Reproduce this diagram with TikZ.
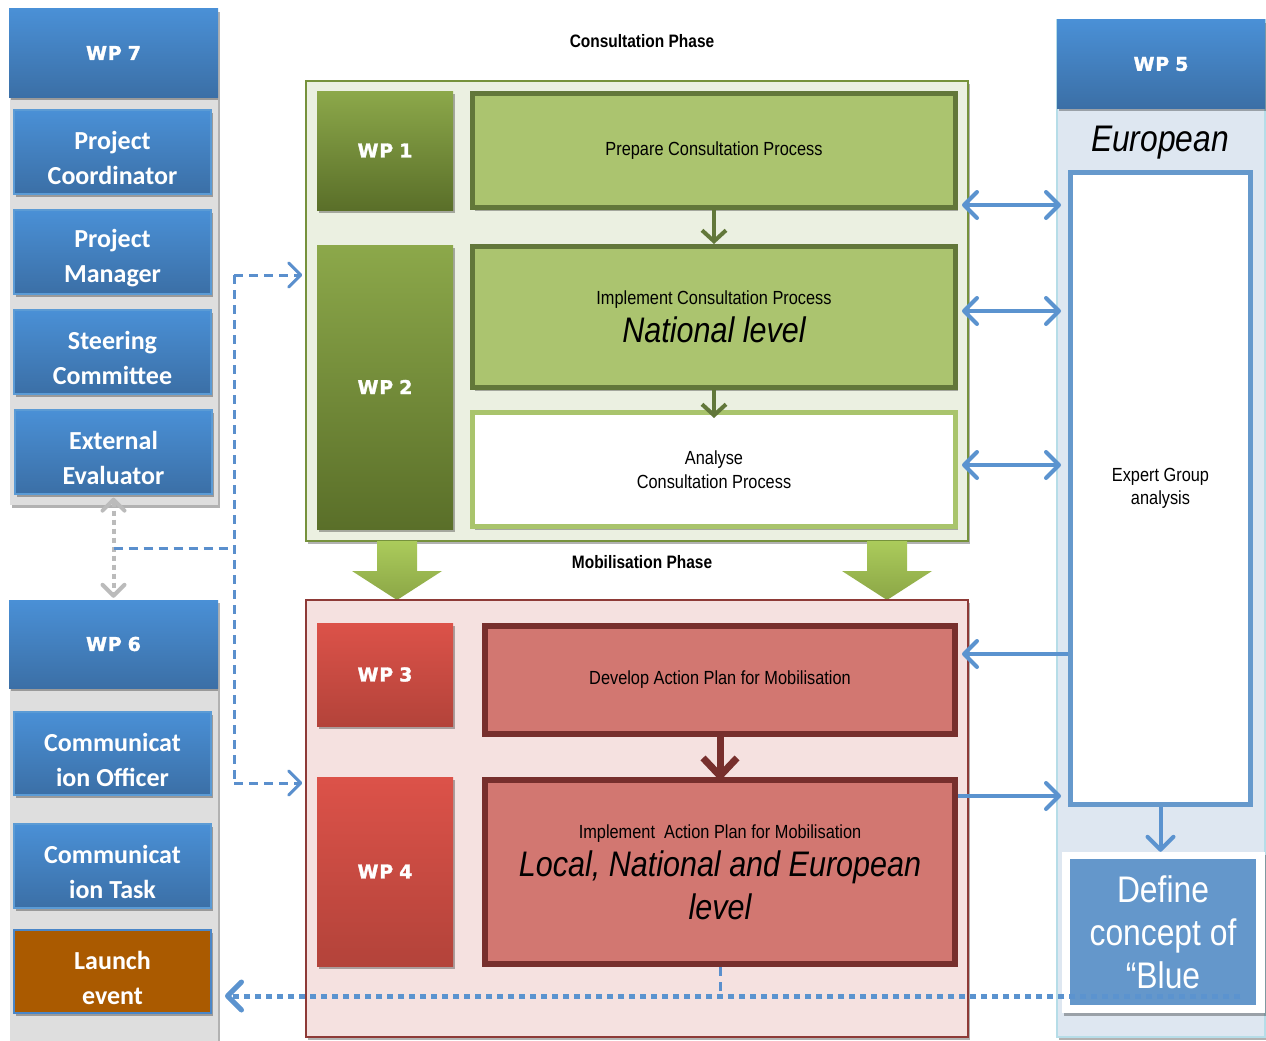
\documentclass[tikz,border=0pt]{standalone}
\usepackage{fontspec}
\setmainfont{Liberation Sans}
\newfontfamily\narrowf{Liberation Sans}[FakeStretch=0.86]
\newfontfamily\calibf{Carlito}
\newfontfamily\heavyf{DejaVu Sans}[BoldFeatures={FakeBold=1.6,LetterSpace=4}]
\usetikzlibrary{arrows.meta,shadows}
\definecolor{hdrT}{HTML}{4A90D6}
\definecolor{hdrB}{HTML}{3B6FA6}
\definecolor{lboxL}{HTML}{5B9BD5}
\definecolor{panelG}{HTML}{DEDEDE}
\definecolor{launchO}{HTML}{AA5A00}
\definecolor{launchB}{HTML}{4A86C8}
\definecolor{gOutF}{HTML}{EBF0E1}
\definecolor{gOutB}{HTML}{76923C}
\definecolor{gwpT}{HTML}{8CA84A}
\definecolor{gwpB}{HTML}{5A6F29}
\definecolor{gboxF}{HTML}{ABC46F}
\definecolor{gboxB}{HTML}{62773A}
\definecolor{ganaB}{HTML}{A9C46C}
\definecolor{rOutF}{HTML}{F5E1E0}
\definecolor{rOutB}{HTML}{8E3A37}
\definecolor{rwpT}{HTML}{DC5249}
\definecolor{rwpB}{HTML}{B3433A}
\definecolor{rboxF}{HTML}{D27771}
\definecolor{rboxB}{HTML}{772F2D}
\definecolor{rpF}{HTML}{DEE7F1}
\definecolor{rpB}{HTML}{B6DDE8}
\definecolor{expB}{HTML}{6699CC}
\definecolor{defF}{HTML}{6497CB}
\definecolor{arrB}{HTML}{5B93CF}
\definecolor{dashB}{HTML}{5A8FCD}
\definecolor{blkT}{HTML}{ABCB5B}
\definecolor{blkB}{HTML}{8BA646}
\definecolor{grayA}{HTML}{BBBBBB}
\newcommand{\bigit}{\narrowf\itshape\fontsize{35.5}{42}\selectfont}
\begin{document}
\begin{tikzpicture}[x=1pt,y=-1pt,
  shad/.style={drop shadow={shadow xshift=2pt,shadow yshift=-3pt,opacity=0.3,fill=black}},
  panel/.style={fill=panelG,draw=none,inner sep=0,shad},
  rpanel/.style={fill=rpF,draw=rpB,line width=1.2,inner sep=0,shad},
  hdr/.style={draw=none,top color=hdrT,bottom color=hdrB,text=white,inner sep=0,
     font=\heavyf\bfseries\fontsize{19}{24}\selectfont,shad},
  lbase/.style={draw=lboxL,line width=1.2,text=white,inner sep=0,align=center,text height=66pt,
     minimum width=197,font=\calibf\bfseries\fontsize{26}{35}\selectfont,shad},
  lbox/.style={lbase,top color=hdrT,bottom color=hdrB},
  gouter/.style={fill=gOutF,draw=gOutB,line width=1.5,inner sep=0,shad},
  router/.style={fill=rOutF,draw=rOutB,line width=1.5,inner sep=0,shad},
  gwp/.style={draw=none,top color=gwpT,bottom color=gwpB,text=white,inner sep=0,minimum width=136,
     font=\heavyf\bfseries\fontsize{19}{24}\selectfont,shad},
  rwp/.style={gwp,top color=rwpT,bottom color=rwpB},
  gbox/.style={fill=gboxF,draw=gboxB,line width=5,inner sep=0,align=center,
     font=\narrowf\fontsize{19}{24}\selectfont,shad},
  abox/.style={gbox,fill=white,draw=ganaB},
  rbox/.style={gbox,fill=rboxF,draw=rboxB,line width=6},
  big/.style={font=\narrowf\itshape\fontsize{37}{43}\selectfont},
  phase/.style={font=\narrowf\bfseries\fontsize{18}{22}\selectfont},
  barrow/.style={draw=arrB,line width=4,-{Straight Barb[length=13pt,width=26pt,round]}},
  barrow2/.style={draw=arrB,line width=4,{Straight Barb[length=13pt,width=26pt,round]}-{Straight Barb[length=13pt,width=26pt,round]}},
  garrow/.style={draw=gboxB,line width=4,-{Straight Barb[length=11pt,width=24pt]}},
  rarrow/.style={draw=rboxB,line width=7,-{Straight Barb[length=18pt,width=34pt]}},
  dline/.style={draw=dashB,line width=3,dash pattern=on 9pt off 6pt},
  dtip/.style={-{Straight Barb[length=12pt,width=24pt,round]}},
  dotline/.style={draw=arrB,line width=5,dash pattern=on 6pt off 5pt},
  grayarrow/.style={draw=grayA,line width=4,dash pattern=on 5pt off 4pt,
     {Straight Barb[length=11pt,width=22pt,round]}-{Straight Barb[length=11pt,width=22pt,round]}},
  blk/.style={top color=blkT,bottom color=blkB,draw=none}
]
\useasboundingbox[fill=white] (0,0) rectangle (1266,1041);

% ---------- left column ----------
\node[panel,minimum width=208,minimum height=408] (lp1) at (114,301) {};
\node[panel,minimum width=208,minimum height=356] (lp2) at (114,866) {};
\node[hdr,minimum width=209,minimum height=88] (wp7) at (113.5,53) {WP\hspace{6pt}7};
\node[lbox,minimum height=84] (pc) at (112.5,152) {Project\\Coordinator};
\node[lbox,minimum height=84] (pm) at (112.5,252) {Project\\Manager};
\node[lbox,minimum height=84] (sc) at (112.5,352) {Steering\\Committee};
\node[lbox,minimum height=84] (ee) at (113.5,452) {External\\Evaluator};
\node[hdr,minimum width=209,minimum height=88] (wp6) at (113.5,644) {WP\hspace{6pt}6};
\node[lbox,minimum height=83] (co) at (112.5,753.5) {Communicat\\ion Officer};
\node[lbox,minimum height=84] (ct) at (112.5,866) {Communicat\\ion Task};
\node[lbase,fill=launchO,draw=launchB,line width=2,minimum height=83] (le) at (112.5,971.5) {Launch\\event};

% ---------- right column ----------
\node[rpanel,minimum width=208,minimum height=1017] (rp) at (1161,528.5) {};
\node[hdr,minimum width=208,minimum height=88] (wp5) at (1161,64) {WP\hspace{6pt}5};
\node[big,inner sep=0] (euro) at (1160,143) {European};
\node[fill=white,draw=expB,line width=5,inner sep=0,minimum width=180,minimum height=632,align=center,
      font=\narrowf\fontsize{19}{23}\selectfont] (expert) at (1160.5,488.5) {Expert Group\\analysis};
\node[fill=white,inner sep=0,minimum width=203,minimum height=161,shad] (defo) at (1163.5,932.5) {};
\node[fill=defF,inner sep=0,minimum width=186,minimum height=146,text=white,align=center,
      font=\narrowf\fontsize{37}{43}\selectfont] (define) at (1163,932) {Define\\concept of\\“Blue};

% ---------- consultation phase ----------
\node[phase] (cphase) at (642,41) {Consultation Phase};
\node[gouter,minimum width=662,minimum height=460] (gout) at (637,311) {};
\node[gwp,minimum height=119] (wp1) at (385,150.5) {WP\hspace{6pt}1};
\node[gwp,minimum height=284] (wp2) at (385,387) {WP\hspace{6pt}2};
\node[gbox,minimum width=483,minimum height=114] (prep) at (714,150.5) {Prepare Consultation Process};
\node[gbox,minimum width=483,minimum height=141] (impl) at (714,317)
   {Implement Consultation Process\\[7pt]{\bigit National level}};
\node[abox,minimum width=483,minimum height=114] (anal) at (714,469.5) {Analyse\\Consultation Process};
\draw[garrow] (prep.south) -- (impl.north);
\draw[garrow] (impl.south) -- ([yshift=-8]anal.north);

% ---------- block arrows ----------
\shade[blk] (377,541) -- (417,541) -- (417,571) -- (442,571) -- (397,600) -- (352,571) -- (377,571) -- cycle;
\shade[blk] (867,541) -- (907,541) -- (907,571) -- (932,571) -- (887,600) -- (842,571) -- (867,571) -- cycle;
\node[phase] (mphase) at (642,562) {Mobilisation Phase};

% ---------- mobilisation phase ----------
\node[router,minimum width=662,minimum height=437] (rout) at (637,818.5) {};
\node[rwp,minimum height=103] (wp3) at (385,674.5) {WP\hspace{6pt}3};
\node[rwp,minimum height=189] (wp4) at (385,871.5) {WP\hspace{6pt}4};
\node[rbox,minimum width=470,minimum height=108] (dev) at (720,680) {Develop Action Plan for Mobilisation};
\node[rbox,minimum width=470,minimum height=184] (impla) at (720,872)
   {Implement\ \ Action Plan for Mobilisation\\[7pt]{\bigit Local, National and European}\\[9pt]{\bigit level}};
\draw[rarrow] (dev.south) -- ([yshift=-4]impla.north);

% ---------- blue connectors ----------
\draw[barrow2,shorten <=4pt,shorten >=7pt] (prep.east |- 0,205) -- (expert.west |- 0,205);
\draw[barrow2,shorten <=4pt,shorten >=7pt] (impl.east |- 0,311) -- (expert.west |- 0,311);
\draw[barrow2,shorten <=4pt,shorten >=7pt] (anal.east |- 0,465) -- (expert.west |- 0,465);
\draw[barrow,shorten >=4pt] (expert.west |- 0,654) -- (dev.east |- 0,654);
\draw[barrow,shorten >=7pt] (impla.east |- 0,796) -- (expert.west |- 0,796);
\draw[barrow] (expert.south) -- (expert.south |- defo.north);

% ---------- dashed links on the left ----------
\coordinate (vtop) at (234,275);
\coordinate (vmid) at (234,548);
\coordinate (vbot) at (234,783);
\draw[grayarrow,shorten <=3pt,shorten >=2pt] (ee.south) -- (wp6.north);
\draw[dline] (vtop) -- (vbot);
\draw[dline] (ee.south |- vmid) -- (vmid);
\draw[dline,dtip,shorten >=3pt] (vtop) -- (gout.west |- vtop);
\draw[dline,dtip,shorten >=3pt] (vbot) -- (rout.west |- vbot);

% ---------- bottom dotted link ----------
\coordinate (dotR) at (1240,996);
\draw[dline] (impla.south) -- (impla.south |- dotR);
\draw[dotline,-{Straight Barb[length=14pt,width=28pt,round]},shorten >=13pt] (dotR) -- (le.east |- dotR);
\end{tikzpicture}
\end{document}
